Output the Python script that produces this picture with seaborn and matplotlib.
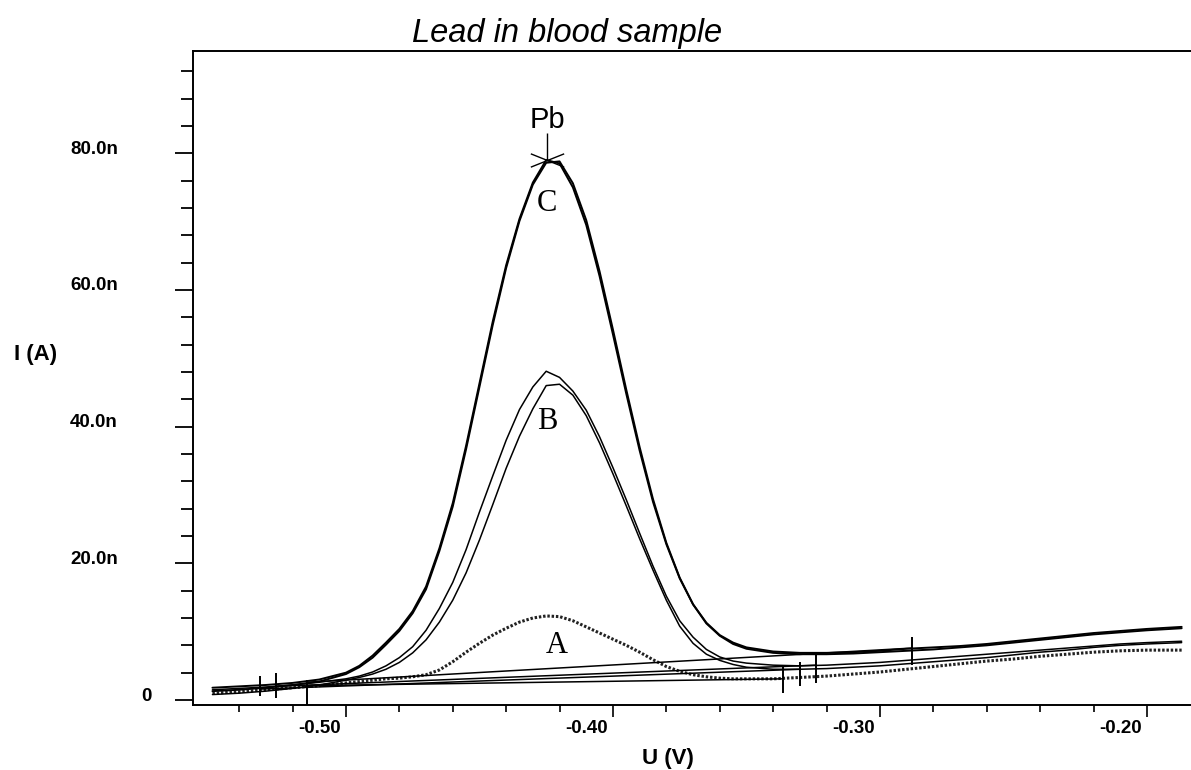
import numpy as np
import pandas as pd
import matplotlib
matplotlib.use("Agg")
import matplotlib.pyplot as plt
import matplotlib.transforms as mtransforms
from matplotlib.path import Path
import seaborn as sns

# ---------- data (U in V, I in nA) ----------
U = [-0.550, -0.540, -0.530, -0.520, -0.510, -0.500, -0.495, -0.490, -0.485, -0.480,
     -0.475, -0.470, -0.465, -0.460, -0.455, -0.450, -0.445, -0.440, -0.435, -0.430,
     -0.425, -0.420, -0.415, -0.410, -0.405, -0.400, -0.395, -0.390, -0.385, -0.380,
     -0.375, -0.370, -0.365, -0.360, -0.355, -0.350, -0.340, -0.330, -0.320, -0.310,
     -0.300, -0.290, -0.280, -0.270, -0.260, -0.250, -0.240, -0.230, -0.220, -0.210,
     -0.200, -0.187]

curve_A = [1.0, 1.2, 1.5, 1.8, 2.1, 2.5, 2.7, 2.9, 3.1, 3.2,
           3.4, 3.7, 4.4, 5.6, 7.0, 8.3, 9.5, 10.5, 11.4, 12.0,
           12.3, 12.2, 11.6, 10.7, 9.8, 8.9, 8.0, 7.0, 5.9, 4.9,
           4.2, 3.7, 3.4, 3.2, 3.1, 3.1, 3.1, 3.3, 3.5, 3.8,
           4.1, 4.5, 4.9, 5.3, 5.7, 6.0, 6.4, 6.7, 7.0, 7.2,
           7.3, 7.3]

curve_B1 = [1.5, 1.7, 1.9, 2.2, 2.6, 3.1, 3.5, 4.1, 5.0, 6.2,
            7.8, 10.2, 13.4, 17.2, 22.0, 27.5, 32.8, 38.0, 42.5, 45.8,
            48.1, 47.2, 45.2, 42.4, 38.5, 34.0, 29.3, 24.4, 19.6, 15.2,
            11.6, 9.2, 7.4, 6.3, 5.7, 5.4, 5.1, 5.0, 5.1, 5.3,
            5.5, 5.8, 6.1, 6.4, 6.7, 7.0, 7.3, 7.6, 7.9, 8.2,
            8.4, 8.6]

curve_B2 = [0.8, 1.0, 1.3, 1.7, 2.2, 2.9, 3.3, 3.8, 4.5, 5.5,
            6.9, 8.8, 11.4, 14.6, 18.6, 23.4, 28.6, 33.9, 38.6, 42.6,
            46.0, 46.2, 44.6, 41.6, 37.6, 33.1, 28.4, 23.6, 19.0, 14.6,
            10.8, 8.3, 6.7, 5.8, 5.2, 4.8, 4.5, 4.5, 4.6, 4.8,
            5.0, 5.3, 5.6, 5.9, 6.2, 6.6, 7.0, 7.3, 7.7, 8.0,
            8.2, 8.4]

curve_C1 = [1.8, 2.0, 2.2, 2.5, 3.0, 4.0, 5.0, 6.5, 8.4, 10.4,
            13.0, 16.6, 22.2, 28.8, 37.2, 46.3, 55.4, 63.6, 70.4, 75.7,
            79.0, 78.5, 75.0, 69.5, 62.0, 53.5, 44.8, 36.5, 29.0, 22.8,
            17.8, 14.0, 11.3, 9.5, 8.4, 7.7, 7.1, 6.9, 6.9, 7.0,
            7.2, 7.5, 7.7, 7.9, 8.2, 8.6, 9.0, 9.4, 9.8, 10.1,
            10.4, 10.7]

curve_C2 = [1.3, 1.5, 1.8, 2.2, 2.7, 3.8, 4.8, 6.2, 8.1, 10.1,
            12.7, 16.2, 21.8, 28.3, 36.7, 45.8, 54.9, 63.2, 70.1, 75.4,
            78.6, 78.8, 75.6, 70.2, 62.7, 54.2, 45.4, 37.0, 29.4, 23.0,
            17.9, 14.0, 11.2, 9.4, 8.2, 7.5, 6.9, 6.7, 6.7, 6.8,
            7.0, 7.2, 7.4, 7.7, 8.0, 8.4, 8.8, 9.2, 9.6, 9.9,
            10.2, 10.5]

# integration baselines (C, B1, B2, A)
base_u0 = [-0.5146, -0.5262, -0.5322, -0.5146]
base_i0 = [2.6, 2.0, 1.6, 2.1]
base_u1 = [-0.2880, -0.3240, -0.3300, -0.3363]
base_i1 = [7.6, 5.1, 4.5, 3.1]

# vertical limit markers
mark_u = [-0.5322, -0.5262, -0.5146, -0.3363, -0.3300, -0.3240, -0.2880]
mark_lo = [0.6, 0.3, -0.7, 1.0, 2.0, 2.5, 5.1]
mark_hi = [3.5, 4.0, 2.9, 4.8, 5.6, 6.9, 9.2]

peak_u, peak_i = -0.4247, 79.0

labels_txt = ["A", "B", "C"]
labels_u = [-0.421, -0.4247, -0.4247]
labels_i = [8.0, 40.7, 72.7]

x_ticks = [-0.50, -0.40, -0.30, -0.20]
x_tick_labels = ["-0.50", "-0.40", "-0.30", "-0.20"]
y_ticks = [0, 20, 40, 60, 80]
y_tick_labels = ["0", "20.0n", "40.0n", "60.0n", "80.0n"]

# ---------- build long table ----------
series = {"A": curve_A, "B1": curve_B1, "B2": curve_B2, "C1": curve_C1, "C2": curve_C2}
df = pd.concat([pd.DataFrame({"U": U, "I": v, "curve": k}) for k, v in series.items()],
               ignore_index=True)

# ---------- plot ----------
sns.set_style("ticks")
plt.rcParams["font.family"] = ["Liberation Sans", "DejaVu Sans"]
plt.rcParams["axes.edgecolor"] = "black"
plt.rcParams["axes.labelcolor"] = "black"
plt.rcParams["text.color"] = "black"
plt.rcParams["xtick.color"] = "black"
plt.rcParams["ytick.color"] = "black"

fig = plt.figure(figsize=(11.91, 7.70), dpi=100)
ax = fig.add_axes([0.162, 0.0844, 0.838, 0.8498])

line_style = {
    "A": dict(color="#222222", lw=2.2, linestyle=(0, (0.8, 0.6))),
    "B1": dict(color="black", lw=1.1, linestyle="-"),
    "B2": dict(color="black", lw=1.1, linestyle="-"),
    "C1": dict(color="black", lw=1.4, linestyle="-"),
    "C2": dict(color="black", lw=1.4, linestyle="-"),
}
for name, kw in line_style.items():
    sns.lineplot(data=df[df.curve == name], x="U", y="I", ax=ax, estimator=None,
                 sort=False, legend=False, **kw)

for u0, i0, u1, i1 in zip(base_u0, base_i0, base_u1, base_i1):
    ax.plot([u0, u1], [i0, i1], color="black", lw=1.1)

ax.vlines(mark_u, mark_lo, mark_hi, color="black", lw=1.4)

# peak marker
xmark = Path([(-1, -0.4), (1, 0.4), (-1, 0.4), (1, -0.4)],
             [Path.MOVETO, Path.LINETO, Path.MOVETO, Path.LINETO])
ax.plot([peak_u], [peak_i], marker=xmark, markersize=24, color="black",
        markeredgewidth=1.0, linestyle="none")
ax.vlines(peak_u, peak_i, peak_i + 4.0, color="black", lw=1.0)
ax.text(peak_u, peak_i + 4.7, "Pb", ha="center", va="baseline", fontsize=21)

for t, u, i in zip(labels_txt, labels_u, labels_i):
    ax.text(u, i, t, ha="center", va="center", fontsize=22,
            family=["Liberation Serif", "DejaVu Serif"])

ax.set_xlim(-0.5573, -0.1835)
ax.set_ylim(-0.73, 95.0)

ax.set_xticks(x_ticks)
ax.set_xticklabels(x_tick_labels, fontsize=13.5, fontweight="bold", ha="right")
ax.set_xticks(np.arange(-0.54, -0.18, 0.02), minor=True)
ax.set_yticks(y_ticks)
ax.set_yticklabels(y_tick_labels, fontsize=13.5, fontweight="bold")
ax.set_yticks(np.arange(0, 93, 4), minor=True)

ax.tick_params(axis="x", which="major", direction="out", length=8.6, width=1.2, pad=2)
ax.tick_params(axis="x", which="minor", direction="out", length=5, width=1.2)
ax.tick_params(axis="y", which="major", direction="out", length=13, width=1.3, pad=41)
ax.tick_params(axis="y", which="minor", direction="out", length=8.6, width=1.3)

dx = mtransforms.ScaledTranslation(-5 / 100, 0, fig.dpi_scale_trans)
for lab in ax.get_xticklabels():
    lab.set_transform(lab.get_transform() + dx)
dy = mtransforms.ScaledTranslation(0, 6 / 100, fig.dpi_scale_trans)
for lab in ax.get_yticklabels():
    lab.set_transform(lab.get_transform() + dy)
# the "0" label sits closer to the axis in the original
ax.get_yticklabels()[0].set_transform(
    ax.get_yticklabels()[0].get_transform()
    + mtransforms.ScaledTranslation(34 / 100, 0, fig.dpi_scale_trans))

for side in ["left", "bottom", "top"]:
    ax.spines[side].set_linewidth(1.4)
    ax.spines[side].set_color("black")
ax.spines["right"].set_visible(False)

ax.set_xlabel("U (V)", fontsize=16, fontweight="bold", va="center")
ax.xaxis.set_label_coords(0.476, -0.081)
ax.set_ylabel("I (A)", fontsize=16, fontweight="bold", rotation=0, ha="center", va="center")
ax.yaxis.set_label_coords(-0.158, 0.535)

fig.text(0.4765, 0.9455, "Lead in blood sample", ha="center", va="baseline",
         fontsize=23.5, fontstyle="italic")

fig.savefig("out.png", dpi=100, facecolor="white")
